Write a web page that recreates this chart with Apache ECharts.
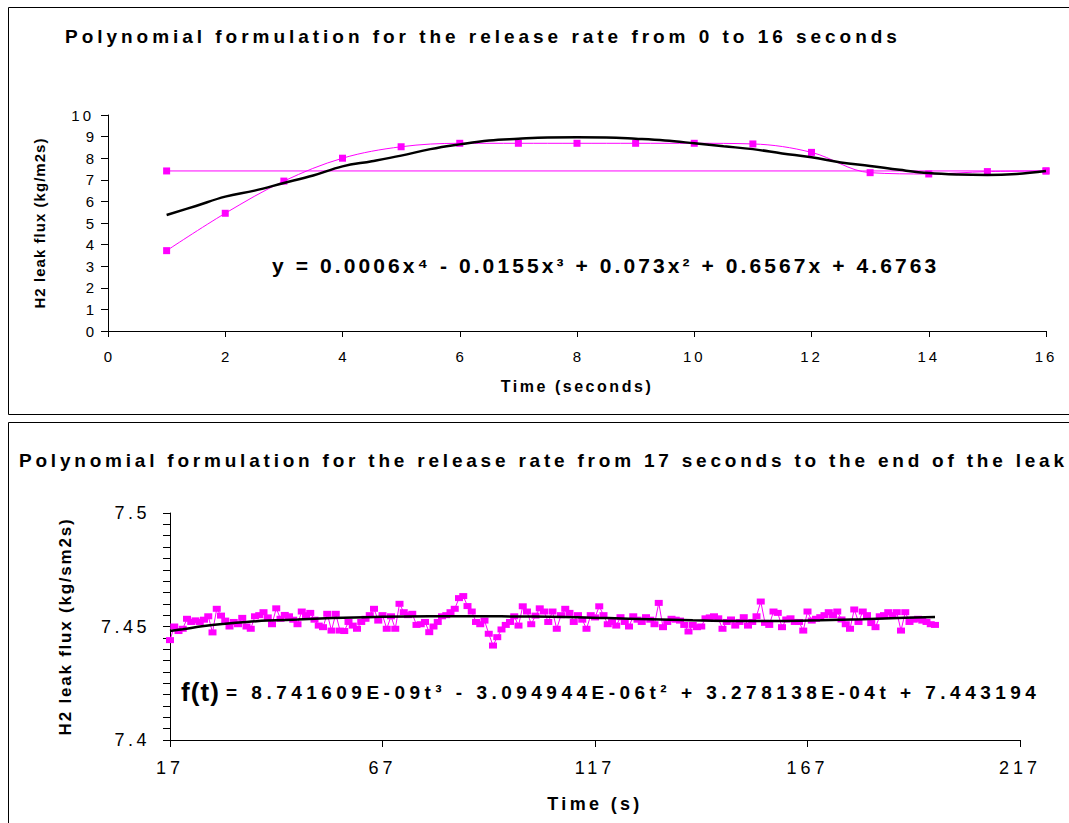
<!DOCTYPE html>
<html>
<head>
<meta charset="utf-8">
<script src="https://cdn.jsdelivr.net/npm/echarts@6/dist/echarts.min.js"></script>
<style>
html,body{margin:0;padding:0;background:#fff;}
#c{width:1069px;height:823px;}
</style>
</head>
<body>
<div id="c"></div>
<script>
// ---------------- DATA ----------------
// Top chart: 0 to 16 seconds
const topTimes = [1, 2, 3, 4, 5, 6, 7, 8, 9, 10, 11, 12, 13, 14, 15, 16];
const topFlux = [3.72, 5.45, 6.94, 8.0, 8.53, 8.69, 8.69, 8.69, 8.69, 8.69, 8.66, 8.27, 7.33, 7.27, 7.38, 7.41];
const topLevelTimes = [1, 16];
const topLevelFlux = [7.41, 7.41];
const topTrendTimes = [1, 1.5, 2, 2.5, 3, 3.5, 4, 4.5, 5, 5.5, 6, 6.5, 7, 7.5, 8, 8.5, 9, 9.5, 10, 10.5, 11, 11.5, 12, 12.5, 13, 13.5, 14, 14.5, 15, 15.5, 16];
const topTrendFlux = [5.37, 5.79, 6.22, 6.5, 6.85, 7.2, 7.62, 7.86, 8.12, 8.42, 8.64, 8.82, 8.9, 8.96, 8.97, 8.96, 8.9, 8.82, 8.69, 8.55, 8.42, 8.22, 8.04, 7.8, 7.64, 7.46, 7.31, 7.24, 7.22, 7.27, 7.41];

// Bottom chart: 17 s to end of leak, one reading per second starting at t = 17
const bottomStartTime = 17;
const bottomFlux = [
 7.4440, 7.4500, 7.4480, 7.4490, 7.4534, 7.4520, 7.4527, 7.4520, 7.4530, 7.4545,
 7.4474, 7.4578, 7.4548, 7.4526, 7.4500, 7.4520, 7.4510, 7.4538, 7.4500, 7.4490,
 7.4545, 7.4550, 7.4563, 7.4540, 7.4510, 7.4580, 7.4534, 7.4551, 7.4545, 7.4530,
 7.4510, 7.4566, 7.4550, 7.4560, 7.4530, 7.4504, 7.4497, 7.4556, 7.4482, 7.4556,
 7.4482, 7.4480, 7.4520, 7.4504, 7.4490, 7.4520, 7.4534, 7.4550, 7.4578, 7.4526,
 7.4550, 7.4490, 7.4545, 7.4490, 7.4600, 7.4563, 7.4550, 7.4556, 7.4507, 7.4510,
 7.4520, 7.4475, 7.4500, 7.4520, 7.4545, 7.4550, 7.4563, 7.4578, 7.4625, 7.4634,
 7.4590, 7.4566, 7.4520, 7.4510, 7.4526, 7.4468, 7.4416, 7.4453, 7.4487, 7.4507,
 7.4520, 7.4545, 7.4504, 7.4589, 7.4566, 7.4510, 7.4548, 7.4580, 7.4566, 7.4520,
 7.4566, 7.4490, 7.4550, 7.4578, 7.4560, 7.4520, 7.4550, 7.4530, 7.4490, 7.4550,
 7.4540, 7.4589, 7.4550, 7.4510, 7.4520, 7.4504, 7.4541, 7.4520, 7.4500, 7.4545,
 7.4530, 7.4520, 7.4541, 7.4530, 7.4510, 7.4604, 7.4497, 7.4520, 7.4534, 7.4530,
 7.4526, 7.4507, 7.4478, 7.4507, 7.4497, 7.4500, 7.4536, 7.4540, 7.4545, 7.4536,
 7.4490, 7.4520, 7.4531, 7.4504, 7.4520, 7.4541, 7.4504, 7.4520, 7.4545, 7.4610,
 7.4516, 7.4507, 7.4566, 7.4560, 7.4497, 7.4531, 7.4536, 7.4520, 7.4520, 7.4482,
 7.4566, 7.4526, 7.4534, 7.4541, 7.4550, 7.4563, 7.4550, 7.4566, 7.4531, 7.4510,
 7.4490, 7.4575, 7.4520, 7.4566, 7.4550, 7.4515, 7.4497, 7.4545, 7.4550, 7.4563,
 7.4550, 7.4563, 7.4482, 7.4563, 7.4520, 7.4530, 7.4534, 7.4526, 7.4520, 7.4510,
 7.4507
];
const bottomTrendTimes = [17, 20, 25, 30, 35, 40, 47, 55, 65, 78, 90, 100, 110, 120, 130, 140, 150, 160, 170, 180, 190, 197];
const bottomTrendFlux = [7.4480, 7.4488, 7.4502, 7.4512, 7.4520, 7.4526, 7.4531, 7.4537, 7.4542, 7.4545, 7.4545, 7.4544, 7.4542, 7.4537, 7.4532, 7.4527, 7.4524, 7.4524, 7.4527, 7.4532, 7.4538, 7.4542];

// Axis ranges [min, max, interval]
const topXRange = [0, 16, 2];
const topYRange = [0, 10, 1];
const bottomXRange = [17, 217, 50];
const bottomYRange = [7.4, 7.5, 0.05];

// Texts
const titleTop = 'Polynomial formulation for the release rate from 0 to 16 seconds';
const titleBottom = 'Polynomial formulation for the release rate from 17 seconds to the end of the leak';
const eqTop = 'y = 0.0006x\u2074 - 0.0155x\u00b3 + 0.073x\u00b2 + 0.6567x + 4.6763';
const eqBottomLead = 'f(t)';
const eqBottomRest = '= 8.741609E-09t\u00b3 - 3.094944E-06t\u00b2 + 3.278138E-04t + 7.443194';
const topXName = 'Time (seconds)';
const topYName = 'H2 leak flux (kg/m2s)';
const bottomXName = 'Time (s)';
const bottomYName = 'H2 leak flux (kg/sm2s)';

// ---------------- STYLE ----------------
const FONT = "'Liberation Sans', Arial, Helvetica, sans-serif";
const MAGENTA = '#ff00ff';

const pairs = (xs, ys) => xs.map((x, i) => [x, ys[i]]);
const bottomPairs = bottomFlux.map((v, i) => [bottomStartTime + i, v]);

function axisCommon() {
  return {
    axisLine: { show: true, onZero: false, lineStyle: { color: '#000', width: 1 } },
    splitLine: { show: false },
  };
}

const option = {
  animation: false,
  backgroundColor: '#fff',
  title: [
    { text: titleTop, left: 65, top: 27, padding: 0,
      textStyle: { fontFamily: FONT, fontSize: 19, fontWeight: 'bold', color: '#000' } },
    { text: titleBottom, left: 19, top: 451, padding: 0,
      textStyle: { fontFamily: FONT, fontSize: 19, fontWeight: 'bold', color: '#000' } }
  ],
  grid: [
    { left: 108, right: 23, top: 115, height: 216 },
    { left: 170, right: 49, top: 513, height: 227 }
  ],
  xAxis: [
    Object.assign(axisCommon(), {
      gridIndex: 0, type: 'value', min: topXRange[0], max: topXRange[1], interval: topXRange[2],
      axisTick: { show: true, inside: false, length: 6, lineStyle: { color: '#000' } },
      axisLabel: { fontFamily: FONT, fontSize: 15, color: '#000', margin: 18 },
      name: topXName, nameLocation: 'middle', nameGap: 47,
      nameTextStyle: { fontFamily: FONT, fontSize: 16, fontWeight: 'bold', color: '#000' }
    }),
    Object.assign(axisCommon(), {
      gridIndex: 1, type: 'value', min: bottomXRange[0], max: bottomXRange[1], interval: bottomXRange[2],
      axisTick: { show: true, inside: false, length: 7, lineStyle: { color: '#000' } },
      axisLabel: { fontFamily: FONT, fontSize: 18, color: '#000', margin: 19 },
      name: bottomXName, nameLocation: 'middle', nameGap: 55,
      nameTextStyle: { fontFamily: FONT, fontSize: 18, fontWeight: 'bold', color: '#000' }
    })
  ],
  yAxis: [
    Object.assign(axisCommon(), {
      gridIndex: 0, type: 'value', min: topYRange[0], max: topYRange[1], interval: topYRange[2],
      axisTick: { show: true, inside: false, length: 7, lineStyle: { color: '#000' } },
      axisLabel: { fontFamily: FONT, fontSize: 15, color: '#000', margin: 14 },
      name: topYName, nameLocation: 'middle', nameGap: 61, nameRotate: 90,
      nameTextStyle: { fontFamily: FONT, fontSize: 15, fontWeight: 'bold', color: '#000' }
    }),
    Object.assign(axisCommon(), {
      gridIndex: 1, type: 'value', min: bottomYRange[0], max: bottomYRange[1], interval: bottomYRange[2],
      axisTick: { show: true, inside: false, length: 7, lineStyle: { color: '#000' } },
      minorTick: { show: true, splitNumber: 10, length: 7, lineStyle: { color: '#000', width: 1 } },
      axisLabel: { fontFamily: FONT, fontSize: 18, color: '#000', margin: 20 },
      name: bottomYName, nameLocation: 'middle', nameGap: 96, nameRotate: 90,
      nameTextStyle: { fontFamily: FONT, fontSize: 17, fontWeight: 'bold', color: '#000' }
    })
  ],
  series: [
    { type: 'line', xAxisIndex: 0, yAxisIndex: 0, data: pairs(topLevelTimes, topLevelFlux),
      symbol: 'rect', symbolSize: [7, 7], showAllSymbol: true,
      lineStyle: { color: MAGENTA, width: 1 }, itemStyle: { color: MAGENTA }, silent: true, z: 2 },
    { type: 'line', xAxisIndex: 0, yAxisIndex: 0, data: pairs(topTimes, topFlux), smooth: 0.35,
      symbol: 'rect', symbolSize: [7, 7], showAllSymbol: true,
      lineStyle: { color: MAGENTA, width: 1 }, itemStyle: { color: MAGENTA }, silent: true, z: 2 },
    { type: 'line', xAxisIndex: 0, yAxisIndex: 0, data: pairs(topTrendTimes, topTrendFlux), smooth: 0.4,
      symbol: 'none', lineStyle: { color: '#000', width: 2.5 }, silent: true, z: 3 },
    { type: 'line', xAxisIndex: 1, yAxisIndex: 1, data: bottomPairs,
      symbol: 'rect', symbolSize: [8, 6], showAllSymbol: true,
      lineStyle: { color: MAGENTA, width: 1 }, itemStyle: { color: MAGENTA }, silent: true, z: 2 },
    { type: 'line', xAxisIndex: 1, yAxisIndex: 1, data: pairs(bottomTrendTimes, bottomTrendFlux), smooth: 0.4,
      symbol: 'none', lineStyle: { color: '#000', width: 2.5 }, silent: true, z: 3 }
  ],
  graphic: [
    { type: 'rect', silent: true, z: -10, shape: { x: 8.5, y: 7.5, width: 1090, height: 407 },
      style: { fill: 'none', stroke: '#000', lineWidth: 1 } },
    { type: 'rect', silent: true, z: -10, shape: { x: 8.5, y: 422.5, width: 1090, height: 430 },
      style: { fill: 'none', stroke: '#000', lineWidth: 1 } },
    { type: 'text', silent: true, x: 272, y: 265,
      style: { text: eqTop, font: 'bold 21px ' + FONT, fill: '#000', textAlign: 'left', textVerticalAlign: 'middle' } },
    { type: 'text', silent: true, x: 181, y: 692,
      style: { text: eqBottomLead, font: 'bold 26px ' + FONT, fill: '#000', textAlign: 'left', textVerticalAlign: 'middle' } },
    { type: 'text', silent: true, x: 226, y: 692,
      style: { text: eqBottomRest, font: 'bold 19px ' + FONT, fill: '#000', textAlign: 'left', textVerticalAlign: 'middle' } }
  ]
};

// Text tracking (letter spacing) to match the reference's spaced-out lettering
const TRACK = {};
TRACK[titleTop] = { width: 832 };
TRACK[titleBottom] = { width: 1045 };
TRACK[eqTop] = { width: 664 };
TRACK[eqBottomLead] = { width: 38 };
TRACK[eqBottomRest] = { width: 810 };
TRACK[topXName] = { width: 150 };
TRACK[topYName] = { width: 170 };
TRACK[bottomXName] = { width: 92 };
TRACK[bottomYName] = { width: 216 };
['7.5', '7.45', '7.4'].forEach(s => TRACK[s] = { ls: 3.5 });
['17', '67', '117', '167', '217'].forEach(s => TRACK[s] = { ls: 4 });
['10', '12', '14', '16'].forEach(s => TRACK[s] = { ls: 3 });

const dom = document.getElementById('c');
const chart = echarts.init(dom, null, { renderer: 'svg', width: 1069, height: 823 });

function applyTracking() {
  dom.querySelectorAll('text').forEach(el => {
    const s = el.textContent;
    const spec = TRACK[s];
    if (!spec) return;
    if (spec.ls != null) { el.setAttribute('letter-spacing', spec.ls); return; }
    el.removeAttribute('letter-spacing');
    let w, n;
    try {
      if (spec.prefix) { n = spec.prefix.length; w = el.getSubStringLength(0, n); }
      else { n = s.length - 1; w = el.getComputedTextLength(); }
    } catch (e) { return; }
    const ls = (spec.width - w) / n;
    el.setAttribute('letter-spacing', ls.toFixed(2));
  });
}
chart.on('finished', applyTracking);
chart.setOption(option);
applyTracking();
</script>
</body>
</html>
